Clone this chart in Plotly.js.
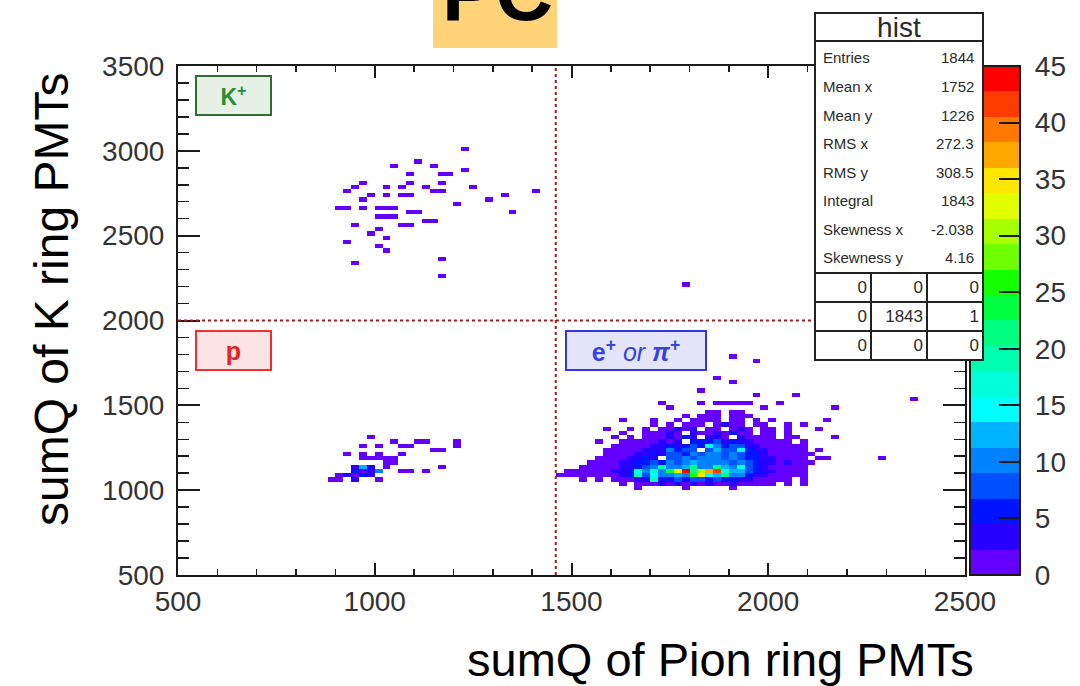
<!DOCTYPE html>
<html>
<head>
<meta charset="utf-8">
<script src="https://cdn.plot.ly/plotly-3.0.1.min.js"></script>
<style>
  html, body { margin: 0; padding: 0; background: #ffffff; }
  #chart { width: 1080px; height: 686px; }
</style>
</head>
<body>
<div id="chart"></div>
<script>
// Bin contents of sumQ(K ring) vs sumQ(Pion ring).
// Each run: [sumQ K ring bin centre, sumQ Pion ring centre of first bin, counts in consecutive Pion bins]
const binSizeX = 20;
const binSizeY = 25;

const kaonRuns = [
  [3012.5, 1230, [1]],
  [2937.5, 1110, [1]],
  [2912.5, 1050, [1]], [2912.5, 1150, [1]],
  [2887.5, 1230, [1]],
  [2862.5, 1090, [1]], [2862.5, 1170, [1, 1]],
  [2812.5, 970, [1]], [2812.5, 1090, [1]], [2812.5, 1170, [1]],
  [2787.5, 950, [1]], [2787.5, 1030, [1, 0, 2]], [2787.5, 1130, [1]], [2787.5, 1250, [1]],
  [2762.5, 930, [1]], [2762.5, 1150, [2, 1]], [2762.5, 1410, [1]],
  [2737.5, 990, [2, 0, 2, 0, 1, 1]], [2737.5, 1330, [1]],
  [2712.5, 970, [2]], [2712.5, 1290, [1]],
  [2687.5, 1210, [1]],
  [2662.5, 910, [1, 2, 0, 1, 0, 1, 2, 2]],
  [2637.5, 1090, [1, 1]], [2637.5, 1350, [1]],
  [2612.5, 1010, [1, 1, 2]],
  [2587.5, 1130, [1, 1]],
  [2562.5, 950, [2]], [2562.5, 1070, [2, 1]],
  [2537.5, 1010, [1]],
  [2512.5, 990, [1]],
  [2487.5, 1030, [1]],
  [2462.5, 930, [1]],
  [2437.5, 1010, [1]],
  [2412.5, 1030, [1]],
  [2362.5, 1170, [1]],
  [2337.5, 950, [1]],
  [2262.5, 1170, [1]],
  [2212.5, 1790, [1]]
];

const protonRuns = [
  [1312.5, 990, [1]],
  [1287.5, 1050, [1]], [1287.5, 1110, [1, 1]], [1287.5, 1210, [1]],
  [1262.5, 970, [1, 0, 1]], [1262.5, 1070, [1, 1]], [1262.5, 1210, [1]],
  [1237.5, 1150, [1, 1]],
  [1212.5, 930, [1, 0, 2, 0, 1]], [1212.5, 1070, [1]],
  [1187.5, 970, [1, 1, 2, 1, 1]],
  [1162.5, 1030, [1, 2]],
  [1137.5, 950, [4, 12, 3, 0, 2]], [1137.5, 1170, [2]],
  [1112.5, 950, [6, 2, 3, 11]], [1112.5, 1070, [1, 2, 0, 2]],
  [1087.5, 910, [1, 4, 2, 5, 3]],
  [1062.5, 890, [2, 1, 0, 3, 0, 0, 1]]
];

const pionRuns = [
  [1787.5, 1910, [1]],
  [1762.5, 1970, [1]],
  [1662.5, 1870, [1]],
  [1637.5, 1910, [1]],
  [1587.5, 1830, [1]],
  [1562.5, 1970, [1]], [1562.5, 2070, [1]],
  [1537.5, 2370, [1]],
  [1512.5, 1730, [1]], [1512.5, 1830, [1]], [1512.5, 1870, [1, 1, 2, 1, 1]], [1512.5, 2030, [1]],
  [1487.5, 1750, [1]], [1487.5, 1990, [1]], [1487.5, 2170, [1]],
  [1462.5, 1850, [1, 1, 0, 1, 1]],
  [1437.5, 1790, [1]], [1437.5, 1830, [1, 1, 2, 0, 1, 1, 1]],
  [1412.5, 1630, [1]], [1412.5, 1710, [1]], [1412.5, 1770, [1, 0, 1, 2, 1, 1, 0, 1, 1, 0, 1]],
  [1412.5, 2010, [1]], [1412.5, 2150, [1]],
  [1387.5, 1710, [1]], [1387.5, 1750, [1, 0, 2, 1, 1, 0, 1, 3, 1, 1, 0, 1, 1]],
  [1387.5, 2050, [1]], [1387.5, 2090, [1]],
  [1362.5, 1590, [1]], [1362.5, 1650, [1, 0, 1, 0, 2, 1, 4, 1, 3, 0, 2, 1, 0, 1, 3, 1, 0, 1, 1]],
  [1362.5, 2050, [1]], [1362.5, 2130, [1]],
  [1337.5, 1630, [1, 0, 0, 1, 2, 1, 3, 2, 0, 4, 2, 1, 3, 1, 5, 1, 2, 0, 1, 1, 0, 1]],
  [1312.5, 1610, [1, 0, 1, 0, 2, 1, 1, 3, 2, 5, 3, 0, 4, 3, 2, 0, 4, 2, 1, 1, 2, 0, 1, 1]],
  [1312.5, 2170, [1]],
  [1287.5, 1570, [1]],
  [1287.5, 1630, [1, 1, 2, 1, 2, 3, 2, 4, 0, 5, 6, 5, 7, 4, 5, 4, 3, 2, 2, 1, 1, 1, 0, 1]],
  [1262.5, 1610, [1, 1, 1, 2, 2, 3, 3, 5, 4, 6, 7, 6, 14, 9, 6, 8, 7, 4, 3, 2, 2, 1, 1, 1, 1]],
  [1237.5, 1590, [1, 1, 1, 2, 2, 3, 4, 3, 10, 6, 8, 7, 0, 7, 12, 8, 7, 15, 6, 4, 3, 2, 2, 1, 1, 1, 0, 1]],
  [1212.5, 1590, [1, 1, 2, 2, 3, 4, 5, 4, 7, 8, 6, 9, 8, 10, 9, 8, 9, 7, 6, 5, 3, 2, 2, 1, 1, 1, 1]],
  [1187.5, 1570, [1, 1, 2, 2, 3, 4, 5, 4, 0, 8, 7, 9, 8, 10, 9, 11, 8, 9, 8, 6, 5, 4, 3, 2, 2, 1, 1, 0, 1, 2]],
  [1187.5, 2290, [1]],
  [1162.5, 1550, [1, 1, 2, 2, 3, 4, 5, 6, 7, 6, 9, 8, 10, 13, 9, 11, 10, 9, 8, 9, 7, 5, 4, 3, 2, 3, 1, 1, 1]],
  [1137.5, 1530, [1, 1, 1, 2, 2, 3, 4, 6, 7, 9, 20, 11, 9, 12, 22, 11, 10, 21, 12, 10, 15, 7, 5, 3, 2, 2, 1, 1, 1]],
  [1112.5, 1490, [1, 1, 2, 1, 2, 2, 3, 4, 6, 15, 9, 16, 10, 24, 33, 44, 22, 30, 38, 41, 17, 12, 13, 8, 5, 4, 3, 2, 1, 2, 1]],
  [1087.5, 1470, [1, 1, 1, 1, 1, 1, 2, 2, 3, 5, 18, 8, 14, 9, 11, 12, 10, 26, 34, 14, 12, 22, 10, 9, 6, 4, 3, 2, 2, 1, 1, 1]],
  [1062.5, 1530, [1, 0, 1, 0, 1, 2, 2, 4, 4, 20, 5, 6, 7, 6, 7, 8, 6, 7, 5, 6, 4, 3, 2, 2, 1, 2, 1, 0, 1]],
  [1037.5, 1630, [1, 0, 2, 1, 2, 3, 2, 3, 2, 3, 2, 3, 2, 2, 3, 1, 2, 1, 1, 1, 0, 1, 0, 1]],
  [1012.5, 1670, [1]], [1012.5, 1790, [1]], [1012.5, 1910, [1]]
];

// Selection cuts drawn as dotted lines
const pionCut = 1460;
const kaonCut = 2000;

// Statistics panel
const statNames = ['Entries', 'Mean x', 'Mean y', 'RMS x', 'RMS y', 'Integral', 'Skewness x', 'Skewness y'];
const statValues = ['1844', '1752', '1226', '272.3', '308.5', '1843', '-2.038', '4.16'];
const overflowTable = [['0', '0', '0'], ['0', '1843', '1'], ['0', '0', '0']];

// 20-level rainbow palette, 0 to 45 counts
const paletteColors = ['#6400ff', '#2800ff', '#0014ff', '#0050ff', '#0082ff', '#00b4ff', '#00ffff',
  '#00ffd8', '#00ffb0', '#00ff80', '#00ff40', '#14ff00', '#70ff00', '#a8ff00', '#e0ff00',
  '#ffe600', '#ffa800', '#ff7800', '#ff3c00', '#ff0000'];
const zMax = 45;

// ---- expand runs into bin centres and contents ----
const xs = [], ys = [], zs = [];
[kaonRuns, protonRuns, pionRuns].forEach(function (runs) {
  runs.forEach(function (run) {
    run[2].forEach(function (c, k) {
      if (c > 0) { xs.push(run[1] + k * binSizeX); ys.push(run[0]); zs.push(c); }
    });
  });
});

// stepped colour scale; empty bins stay white
const colorscale = [[0, '#ffffff'], [0.001, '#ffffff']];
paletteColors.forEach(function (c, k) {
  colorscale.push([Math.max(k / paletteColors.length, 0.001), c]);
  colorscale.push([(k + 1) / paletteColors.length, c]);
});

// plot-area geometry in pixels
const W = 1080, H = 686;
const L = 178, R = 965, T = 66, B = 575;
function px(x) { return (x - L) / (R - L); }
function py(y) { return (B - y) / (B - T); }

const FONT = 'Liberation Sans, Arial, Helvetica, sans-serif';
const ink = '#1a1a1a';

const trace = {
  type: 'histogram2d',
  x: xs, y: ys, z: zs,
  histfunc: 'sum',
  xbins: { start: 500, end: 2500, size: binSizeX },
  ybins: { start: 500, end: 3500, size: binSizeY },
  zmin: 0, zmax: zMax,
  colorscale: colorscale,
  hoverinfo: 'skip',
  colorbar: {
    x: px(970), xanchor: 'left', xpad: 0,
    y: 0.5, yanchor: 'middle', ypad: 0,
    thickness: 50, thicknessmode: 'pixels',
    len: B - T, lenmode: 'pixels',
    outlinewidth: 2, outlinecolor: ink,
    tick0: 0, dtick: 5,
    ticks: 'inside', ticklen: 22, tickwidth: 2, tickcolor: ink,
    tickprefix: '\u00a0',
    tickfont: { family: FONT, size: 28, color: '#333' }
  }
};

const annotations = [];
const shapes = [];

// selection cut lines
shapes.push({ type: 'line', xref: 'x', yref: 'y', x0: pionCut, x1: pionCut, y0: 500, y1: 3500,
  line: { color: '#a01c1c', width: 2, dash: 'dot' } });
shapes.push({ type: 'line', xref: 'x', yref: 'y', x0: 500, x1: 2500, y0: kaonCut, y1: kaonCut,
  line: { color: '#a01c1c', width: 2, dash: 'dot' } });

// title tab
shapes.push({ type: 'rect', xref: 'paper', yref: 'paper', x0: px(433), x1: px(557), y0: py(48), y1: py(-5),
  fillcolor: '#ffd479', line: { width: 0 }, layer: 'above' });
annotations.push({ xref: 'paper', yref: 'paper', x: px(497), y: py(-7), xanchor: 'center', yanchor: 'middle',
  text: '<b>PC</b>', showarrow: false, font: { family: FONT, size: 80, color: '#000' } });

// axis titles
annotations.push({ xref: 'paper', yref: 'paper', x: px(720), y: py(659), xanchor: 'center', yanchor: 'middle',
  text: 'sumQ of Pion ring PMTs', showarrow: false, font: { family: FONT, size: 47, color: '#000' } });
annotations.push({ xref: 'paper', yref: 'paper', x: px(51), y: py(300), xanchor: 'center', yanchor: 'middle',
  text: 'sumQ of K ring PMTs', textangle: -90, showarrow: false, font: { family: FONT, size: 48, color: '#000' } });

// particle labels
function tag(l, t, w, h, text, bg, border, color, size) {
  annotations.push({ xref: 'paper', yref: 'paper', x: px(l), y: py(t), xanchor: 'left', yanchor: 'top',
    width: w - 4, height: h - 4, borderpad: 0, borderwidth: 2, bordercolor: border, bgcolor: bg,
    text: text, showarrow: false, font: { family: FONT, size: size, color: color } });
}
tag(195, 75, 77, 41, '<b>K<sup>+</sup></b>', '#e4f1e4', '#2f6e33', '#2e8b35', 23);
tag(195, 330, 77, 41, '<b>p</b>', '#fde4e4', '#f03030', '#e82020', 25);
tag(565, 330, 142, 41, '<b>e<sup>+</sup></b> <i>or</i> <b><i>π</i><sup>+</sup></b>', '#e4e4fb', '#3535e8', '#3444dd', 25);

// statistics panel: bordered cells carrying their own text
function cell(l, t, w, h, text, align, valign, pad, size) {
  annotations.push({ xref: 'paper', yref: 'paper', x: px(l), y: py(t), xanchor: 'left', yanchor: 'top',
    width: w - 2 * (2 + pad), height: h - 2 * (2 + pad), borderpad: pad, borderwidth: 2,
    bordercolor: '#222', bgcolor: '#ffffff', align: align, valign: valign,
    text: text, showarrow: false, font: { family: FONT, size: size, color: '#2a2a2a' } });
}
function label(x, y, text, anchor, size) {
  annotations.push({ xref: 'paper', yref: 'paper', x: px(x), y: py(y), xanchor: anchor, yanchor: 'middle',
    text: text, showarrow: false, font: { family: FONT, size: size, color: '#2a2a2a' } });
}
const boxL = 814, boxR = 984;
cell(boxL, 12, boxR - boxL, 30, 'hist', 'center', 'middle', 0, 28);
cell(boxL, 40, boxR - boxL, 234, statNames[0], 'left', 'top', 7, 15);
statNames.forEach(function (n, k) {
  if (k > 0) label(boxL + 7, 58 + 28.5 * k, n, 'left', 15);
  label(boxR - 8, 58 + 28.5 * k, statValues[k], 'right', 15);
});
const tblTops = [272, 301, 330], tblLefts = [814, 870, 926];
overflowTable.forEach(function (row, r) {
  row.forEach(function (v, c) {
    cell(tblLefts[c], tblTops[r], 58, 31, v, 'right', 'middle', 3, 17);
  });
});

const axisCommon = {
  ticks: 'inside', tickwidth: 2, tickcolor: ink,
  showline: true, linewidth: 2, linecolor: ink, mirror: 'ticks',
  showgrid: false, zeroline: false,
  tickfont: { family: FONT, size: 28, color: '#333' }
};

const layout = {
  width: W, height: H,
  margin: { l: L, r: W - R, t: T, b: H - B, autoexpand: false },
  paper_bgcolor: '#ffffff', plot_bgcolor: '#ffffff',
  font: { family: FONT },
  xaxis: Object.assign({}, axisCommon, {
    range: [500, 2500], tick0: 500, dtick: 500, ticklen: 12,
    minor: { dtick: 100, ticks: 'inside', ticklen: 6, tickwidth: 1.5, tickcolor: ink }
  }),
  yaxis: Object.assign({}, axisCommon, {
    range: [500, 3500], tick0: 500, dtick: 500, ticklen: 22, ticklabelstandoff: 6,
    minor: { dtick: 100, ticks: 'inside', ticklen: 11, tickwidth: 1.5, tickcolor: ink }
  }),
  shapes: shapes,
  annotations: annotations,
  showlegend: false
};

Plotly.newPlot('chart', [trace], layout, { staticPlot: true });
</script>
</body>
</html>
